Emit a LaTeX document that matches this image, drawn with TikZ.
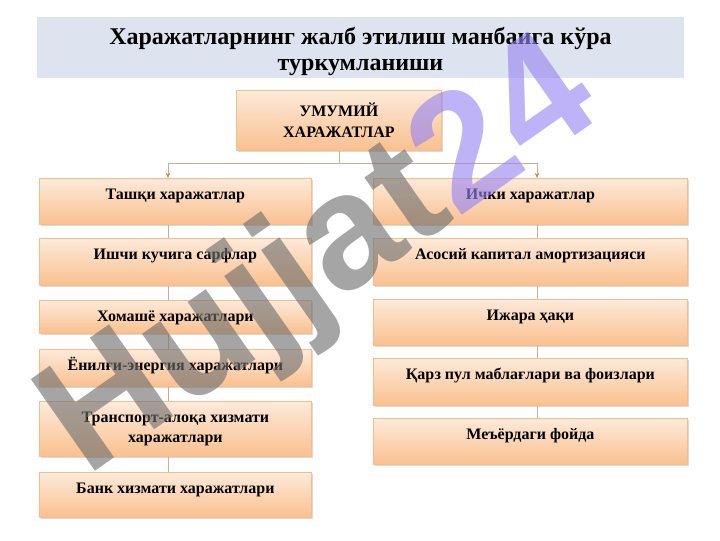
\documentclass[tikz,border=0pt]{standalone}
\usepackage{fontspec}
\setmainfont{Liberation Serif}
\newfontfamily\wmfont{Liberation Sans}
\usetikzlibrary{arrows.meta,shadows}

\definecolor{titleband}{RGB}{221,228,240}
\definecolor{boxtop}{RGB}{253,234,218}
\definecolor{boxbot}{RGB}{250,192,143}
\definecolor{boxline}{RGB}{244,190,140}
\definecolor{linkcol}{RGB}{200,176,152}
\definecolor{tipcol}{RGB}{214,140,70}
\definecolor{wmgray}{RGB}{110,110,110}
\definecolor{wmlilac}{RGB}{150,132,240}

\tikzset{
  basebox/.style={draw=boxline, line width=0.6pt, top color=boxtop, bottom color=boxbot,
    anchor=north west, inner xsep=3pt, font=\bfseries\fontsize{12}{15.5}\selectfont,
    drop shadow={shadow xshift=1.2pt, shadow yshift=-1.2pt, opacity=0.3}},
  costbox/.style={basebox, inner ysep=0pt, text height=15.5pt},
  leftbox/.style={costbox, minimum width=204pt},
  rightbox/.style={costbox, minimum width=235.5pt},
  link/.style={draw=linkcol, line width=0.6pt},
  arrowlink/.style={link, -{Stealth[length=4pt,width=3.5pt,color=tipcol]}},
}

\begin{document}
\begin{tikzpicture}[x=0.75pt,y=0.75pt,yscale=-1,xscale=1]
\useasboundingbox (0,0) rectangle (720,540);

% title band
\fill[titleband] (37,17) rectangle (684,78);
\node (title) [align=center, font=\bfseries\fontsize{18}{19.5}\selectfont] at (360.5,51)
  {Харажатларнинг жалб этилиш манбаига кўра\\туркумланиши};

% top
\node (top) [basebox, align=center, minimum width=153.75pt, minimum height=45pt] at (236,90)
  {УМУМИЙ\\ХАРАЖАТЛАР};

% left column
\node (l1) [leftbox, text depth=19pt] at (39,178) {Ташқи харажатлар};
\node (l2) [leftbox, text depth=19.75pt] at (39,238) {Ишчи кучига сарфлар};
\node (l3) [leftbox, text depth=9.25pt] at (39,300) {Хомашё харажатлари};
\node (l4) [leftbox, text depth=12.25pt] at (39,349) {Ёнилғи-энергия харажатлари};
\node (l5) [basebox, align=center, minimum width=204pt, minimum height=41.25pt] at (39,401)
  {Транспорт-алоқа хизмати\\харажатлари};
\node (l6) [leftbox, text depth=18.25pt] at (39,472) {Банк хизмати харажатлари};

% right column
\node (r1) [rightbox, text depth=19pt] at (373,178) {Ички харажатлар};
\node (r2) [rightbox, text depth=19.75pt] at (373,238) {Асосий капитал амортизацияси};
\node (r3) [rightbox, text depth=19pt] at (373,299) {Ижара ҳақи};
\node (r4) [rightbox, text depth=19.75pt] at (373,358) {Қарз пул маблағлари ва фоизлари};
\node (r5) [rightbox, text depth=19pt] at (373,418) {Меъёрдаги фойда};

% connectors
\coordinate (lcol) at (168,0);
\coordinate (rcol) at (537,0);
\draw[link] (top.south) -- ++(0,13) coordinate (split);
\draw[arrowlink] (split) -| (l1.north -| lcol);
\draw[arrowlink] (split) -| (r1.north -| rcol);
\foreach \a/\b in {l1/l2,l2/l3,l3/l4,l4/l5,l5/l6}
  \draw[link] (\a.south -| lcol) -- (\b.north -| lcol);
\foreach \a/\b in {r1/r2,r2/r3,r3/r4,r4/r5}
  \draw[link] (\a.south -| rcol) -- (\b.north -| rcol);

% watermark
\node (mark) [rotate=35, text opacity=0.62, font=\wmfont\bfseries\fontsize{122}{122}\selectfont]
  at (322,262) {\textcolor{wmgray}{Hujjat}\textcolor{wmlilac}{24}};
\end{tikzpicture}
\end{document}
